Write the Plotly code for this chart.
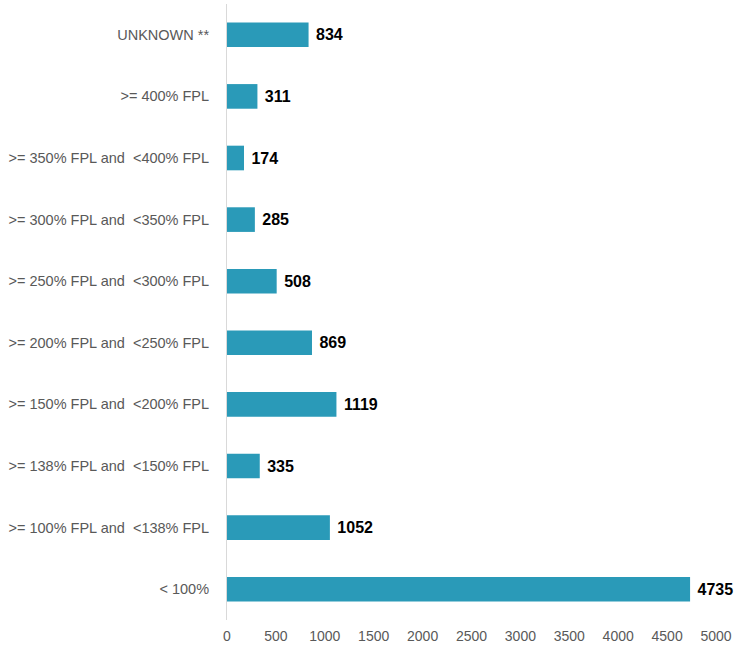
import plotly.graph_objects as go

categories = ["< 100%", ">= 100% FPL and  <138% FPL", ">= 138% FPL and  <150% FPL",
              ">= 150% FPL and  <200% FPL", ">= 200% FPL and  <250% FPL",
              ">= 250% FPL and  <300% FPL", ">= 300% FPL and  <350% FPL",
              ">= 350% FPL and  <400% FPL", ">= 400% FPL", "UNKNOWN **"]
values = [4735, 1052, 335, 1119, 869, 508, 285, 174, 311, 834]
x_ticks = [0, 500, 1000, 1500, 2000, 2500, 3000, 3500, 4000, 4500, 5000]

fig = go.Figure(go.Bar(
    x=values, y=categories, orientation="h",
    marker=dict(color="#2a9ab8", line=dict(width=0)),
    text=[" " + str(v) for v in values], textposition="outside",
    textfont=dict(family="Liberation Sans, Arial", size=16, color="#000000", weight="bold"),
    constraintext="none", cliponaxis=False, hoverinfo="skip",
))

fig.update_layout(
    width=738, height=650,
    margin=dict(l=227, r=22, t=4, b=30, autoexpand=False),
    paper_bgcolor="white", plot_bgcolor="white",
    bargap=0.6, showlegend=False,
    font=dict(family="Liberation Sans, Arial", size=14, color="#595959"),
    xaxis=dict(range=[0, 5000], tickvals=x_ticks, showgrid=False, zeroline=False,
               showline=False, ticks="", ticklabelstandoff=6,
               tickfont=dict(size=14, color="#595959")),
    yaxis=dict(categoryorder="array", categoryarray=categories, showgrid=False,
               showline=True, linecolor="#d9d9d9", linewidth=1, ticks="",
               ticklabelstandoff=14, tickfont=dict(size=14.5, color="#595959")),
)

fig.write_html("out.html", config={"displayModeBar": False},
               post_script="document.body.style.margin='0';")
